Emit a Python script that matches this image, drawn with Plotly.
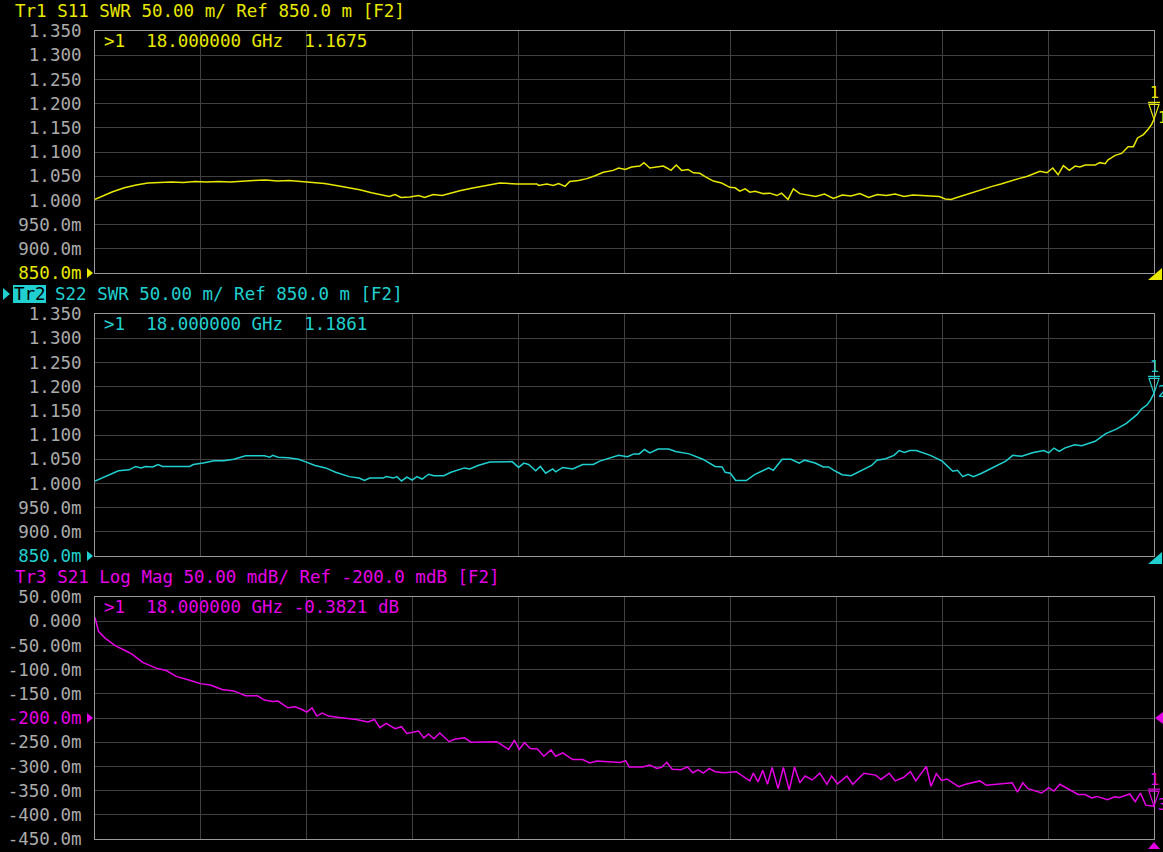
import plotly.graph_objects as go

# ---------------- data (frequency in GHz) ----------------
s11_freq = [0.00, 0.15, 0.30, 0.50, 0.70, 0.90, 1.10, 1.30, 1.50, 1.70, 1.90, 2.10, 2.30, 2.50, 2.70, 2.90,
            3.10, 3.30, 3.50, 3.70, 3.90, 4.10, 4.30, 4.50, 4.70, 4.85, 5.00, 5.10, 5.20, 5.35, 5.50, 5.60,
            5.75, 5.90, 6.05, 6.20, 6.40, 6.60, 6.75, 6.88, 7.17, 7.51, 7.54, 7.68, 7.79, 7.88, 7.99, 8.07,
            8.22, 8.36, 8.50, 8.64, 8.81, 8.90, 9.01, 9.12, 9.26, 9.33, 9.43, 9.55, 9.66, 9.72, 9.79, 9.88,
            9.97, 10.08, 10.17, 10.28, 10.37, 10.51, 10.65, 10.79, 10.88, 10.96, 11.05, 11.13, 11.22, 11.36,
            11.47, 11.59, 11.67, 11.78, 11.87, 11.98, 12.10, 12.25, 12.40, 12.55, 12.70, 12.85, 13.00, 13.15,
            13.30, 13.45, 13.60, 13.75, 13.90, 14.05, 14.20, 14.35, 14.45, 14.55, 14.65, 14.80, 14.95, 15.10,
            15.25, 15.40, 15.55, 15.70, 15.85, 15.95, 16.06, 16.18, 16.28, 16.37, 16.46, 16.56, 16.66, 16.74,
            16.83, 17.00, 17.08, 17.17, 17.22, 17.34, 17.45, 17.56, 17.65, 17.72, 17.82, 17.90, 17.96, 18.00]
s11_swr = [1.002, 1.010, 1.018, 1.026, 1.032, 1.036, 1.037, 1.038, 1.037, 1.039, 1.038, 1.039, 1.038, 1.040, 1.041, 1.042,
           1.040, 1.041, 1.039, 1.037, 1.035, 1.031, 1.027, 1.022, 1.016, 1.012, 1.008, 1.012, 1.006, 1.007, 1.010, 1.006,
           1.012, 1.010, 1.015, 1.020, 1.025, 1.030, 1.034, 1.036, 1.034, 1.034, 1.031, 1.034, 1.031, 1.035, 1.029, 1.039,
           1.041, 1.045, 1.051, 1.058, 1.062, 1.067, 1.064, 1.069, 1.071, 1.078, 1.067, 1.069, 1.071, 1.067, 1.062, 1.073,
           1.062, 1.064, 1.057, 1.056, 1.049, 1.040, 1.036, 1.027, 1.026, 1.019, 1.024, 1.017, 1.019, 1.014,
           1.015, 1.010, 1.015, 1.002, 1.024, 1.014, 1.012, 1.008, 1.013, 1.004, 1.011, 1.009, 1.014, 1.006,
           1.012, 1.010, 1.013, 1.008, 1.011, 1.010, 1.009, 1.008, 1.003, 1.002, 1.006, 1.012, 1.018, 1.024,
           1.029, 1.034, 1.040, 1.045, 1.050, 1.055, 1.060, 1.057, 1.067, 1.053, 1.072, 1.062, 1.071, 1.069,
           1.073, 1.073, 1.078, 1.076, 1.084, 1.093, 1.097, 1.111, 1.111, 1.129, 1.136, 1.147, 1.157, 1.1675]

s22_freq = [0.00, 0.17, 0.40, 0.58, 0.69, 0.78, 0.86, 0.98, 1.07, 1.15, 1.61, 1.67, 1.84, 2.02, 2.19, 2.36,
            2.56, 2.88, 2.97, 3.02, 3.11, 3.28, 3.46, 3.57, 3.74, 3.92, 4.09, 4.32, 4.49, 4.58, 4.67, 4.90,
            4.95, 5.07, 5.13, 5.21, 5.30, 5.39, 5.47, 5.56, 5.67, 5.76, 5.93, 6.05, 6.28, 6.37, 6.51, 6.71,
            6.97, 7.09, 7.20, 7.29, 7.37, 7.49, 7.57, 7.66, 7.78, 7.83, 7.95, 8.12, 8.29, 8.47, 8.58, 8.76,
            8.90, 9.05, 9.16, 9.25, 9.34, 9.43, 9.57, 9.75, 9.87, 10.10, 10.33, 10.54, 10.66, 10.71, 10.80,
            10.89, 11.07, 11.21, 11.33, 11.45, 11.53, 11.68, 11.83, 11.97, 12.06, 12.24, 12.38, 12.47, 12.56,
            12.70, 12.85, 13.03, 13.20, 13.29, 13.44, 13.58, 13.67, 13.76, 13.85, 13.96, 14.08, 14.20, 14.40,
            14.58, 14.66, 14.75, 14.84, 14.93, 15.07, 15.25, 15.48, 15.60, 15.75, 15.95, 16.13, 16.21, 16.30,
            16.39, 16.48, 16.65, 16.77, 17.00, 17.18, 17.36, 17.53, 17.71, 17.79, 17.88, 17.94, 18.00]
s22_swr = [1.005, 1.014, 1.026, 1.028, 1.035, 1.032, 1.035, 1.034, 1.039, 1.035, 1.035, 1.039, 1.042, 1.047, 1.047, 1.050,
           1.057, 1.057, 1.054, 1.058, 1.054, 1.053, 1.050, 1.045, 1.037, 1.032, 1.023, 1.014, 1.011, 1.006, 1.011, 1.011,
           1.014, 1.011, 1.014, 1.005, 1.013, 1.007, 1.014, 1.009, 1.019, 1.016, 1.016, 1.023, 1.032, 1.030, 1.037, 1.044,
           1.044, 1.045, 1.033, 1.042, 1.039, 1.026, 1.035, 1.021, 1.030, 1.024, 1.033, 1.030, 1.039, 1.039, 1.046, 1.052,
           1.058, 1.055, 1.061, 1.061, 1.070, 1.063, 1.071, 1.071, 1.066, 1.061, 1.050, 1.035, 1.034, 1.023, 1.021,
           1.006, 1.006, 1.018, 1.025, 1.032, 1.027, 1.050, 1.050, 1.042, 1.048, 1.042, 1.034, 1.034, 1.027,
           1.018, 1.016, 1.026, 1.037, 1.048, 1.051, 1.058, 1.068, 1.064, 1.068, 1.068, 1.063, 1.058, 1.046,
           1.025, 1.027, 1.014, 1.019, 1.014, 1.021, 1.032, 1.046, 1.058, 1.056, 1.064, 1.068, 1.063, 1.073,
           1.066, 1.073, 1.080, 1.078, 1.087, 1.103, 1.112, 1.124, 1.142, 1.154, 1.162, 1.172, 1.1861]

s21_freq = [0.00, 0.06, 0.17, 0.35, 0.52, 0.63, 0.81, 1.04, 1.21, 1.38, 1.61, 1.79, 1.96, 2.16, 2.36, 2.56,
            2.76, 2.88, 3.02, 3.11, 3.28, 3.40, 3.51, 3.60, 3.69, 3.77, 3.86, 3.97, 4.15, 4.44, 4.64, 4.75,
            4.84, 4.95, 5.10, 5.21, 5.30, 5.41, 5.50, 5.59, 5.67, 5.76, 5.86, 6.02, 6.11, 6.28, 6.39, 6.83,
            7.03, 7.13, 7.21, 7.30, 7.40, 7.52, 7.63, 7.75, 7.83, 7.95, 8.12, 8.29, 8.41, 8.53, 8.81, 8.93,
            9.02, 9.08, 9.31, 9.43, 9.55, 9.63, 9.72, 9.81, 9.96, 10.07, 10.16, 10.25, 10.34, 10.44, 10.54,
            10.69, 10.90, 11.01, 11.13, 11.19, 11.27, 11.35, 11.43, 11.51, 11.61, 11.70, 11.80, 11.89, 11.98,
            12.07, 12.19, 12.32, 12.44, 12.52, 12.62, 12.78, 12.88, 13.07, 13.27, 13.36, 13.50, 13.60, 13.74,
            13.86, 13.95, 14.13, 14.21, 14.30, 14.39, 14.48, 14.68, 14.80, 15.04, 15.15, 15.30, 15.48, 15.59,
            15.68, 15.77, 15.86, 16.09, 16.21, 16.30, 16.40, 16.53, 16.71, 16.83, 16.94, 17.03, 17.21, 17.33,
            17.41, 17.59, 17.68, 17.77, 17.86, 18.00]
s21_db = [0.008, -0.021, -0.035, -0.051, -0.061, -0.068, -0.085, -0.097, -0.102, -0.114, -0.122, -0.129, -0.132, -0.141, -0.144, -0.154,
          -0.154, -0.163, -0.166, -0.165, -0.179, -0.177, -0.182, -0.188, -0.179, -0.196, -0.190, -0.196, -0.199, -0.203, -0.208, -0.203,
          -0.220, -0.211, -0.222, -0.218, -0.232, -0.229, -0.227, -0.241, -0.233, -0.243, -0.231, -0.249, -0.244, -0.241, -0.250, -0.249,
          -0.265, -0.246, -0.265, -0.251, -0.263, -0.264, -0.279, -0.266, -0.279, -0.272, -0.286, -0.286, -0.293, -0.289, -0.292, -0.292,
          -0.288, -0.301, -0.301, -0.297, -0.304, -0.302, -0.2915, -0.306, -0.307, -0.301, -0.313, -0.307, -0.314, -0.304, -0.311,
          -0.313, -0.311, -0.321, -0.330, -0.314, -0.332, -0.308, -0.337, -0.302, -0.346, -0.302, -0.349, -0.301, -0.334,
          -0.320, -0.328, -0.314, -0.337, -0.320, -0.336, -0.320, -0.337, -0.314, -0.318, -0.327, -0.314, -0.330, -0.323,
          -0.311, -0.330, -0.300, -0.341, -0.315, -0.329, -0.326, -0.342, -0.337, -0.330, -0.339, -0.337, -0.334, -0.334,
          -0.353, -0.334, -0.346, -0.355, -0.344, -0.351, -0.337, -0.346, -0.358, -0.358, -0.365, -0.362, -0.369, -0.363,
          -0.364, -0.357, -0.373, -0.355, -0.380, -0.3821]

swr_ticks = [1.35, 1.30, 1.25, 1.20, 1.15, 1.10, 1.05, 1.00, 0.95, 0.90, 0.85]
swr_labels = ["1.350", "1.300", "1.250", "1.200", "1.150", "1.100", "1.050", "1.000", "950.0m", "900.0m", "850.0m"]
db_ticks = [0.05, 0.0, -0.05, -0.10, -0.15, -0.20, -0.25, -0.30, -0.35, -0.40, -0.45]
db_labels = ["50.00m", "0.000", "-50.00m", "-100.0m", "-150.0m", "-200.0m", "-250.0m", "-300.0m", "-350.0m", "-400.0m", "-450.0m"]

headers = ["Tr1 S11 SWR 50.00 m/ Ref 850.0 m [F2]",
           "S22 SWR 50.00 m/ Ref 850.0 m [F2]",
           "Tr3 S21 Log Mag 50.00 mdB/ Ref -200.0 mdB [F2]"]
readouts = [">1\u00a0\u00a018.000000 GHz\u00a0\u00a01.1675",
            ">1\u00a0\u00a018.000000 GHz\u00a0\u00a01.1861",
            ">1\u00a0\u00a018.000000 GHz -0.3821 dB"]

# ---------------- style ----------------
W, H = 1163, 852
YEL, CYA, MAG = "#e8e800", "#20d0d0", "#e600e6"
LBL = "#ababab"
GRID = "#404040"
FRAME = "#9a9a9a"
MONO = "DejaVu Sans Mono, Liberation Mono, monospace"
FS = 17.5

def px(x):
    return x / W

def py(y):
    return 1 - y / H

panels = [(31, 273), (314, 556), (597, 839)]  # (top px, bottom px)
colors = [YEL, CYA, MAG]

fig = go.Figure()
series = [(s11_freq, s11_swr), (s22_freq, s22_swr), (s21_freq, s21_db)]
for i, (fx, fy) in enumerate(series):
    fig.add_trace(go.Scatter(x=fx, y=fy, mode="lines", line=dict(color=colors[i], width=1.5),
                             xaxis="x" if i == 0 else f"x{i+1}", yaxis="y" if i == 0 else f"y{i+1}",
                             showlegend=False, hoverinfo="skip"))

layout = dict(width=W, height=H, paper_bgcolor="black", plot_bgcolor="black",
              margin=dict(l=0, r=0, t=0, b=0), showlegend=False)

ref_label_idx = [10, 10, 5]
for i, (top, bot) in enumerate(panels):
    xa = "xaxis" if i == 0 else f"xaxis{i+1}"
    ya = "yaxis" if i == 0 else f"yaxis{i+1}"
    yref = "y" if i == 0 else f"y{i+1}"
    layout[xa] = dict(domain=[px(95), px(1154)], range=[0, 18], dtick=1.8, tick0=0,
                      showgrid=True, gridcolor=GRID, gridwidth=1, zeroline=False,
                      showticklabels=False, showline=True, mirror=True, linecolor=FRAME, linewidth=1,
                      anchor=yref, fixedrange=True)
    tv = swr_ticks if i < 2 else db_ticks
    tl = list(swr_labels if i < 2 else db_labels)
    k = ref_label_idx[i]
    tl[k] = f"<span style='color:{colors[i]}'>{tl[k]}</span>"
    rng = [0.85, 1.35] if i < 2 else [-0.45, 0.05]
    layout[ya] = dict(domain=[py(bot), py(top)], range=rng, tickmode="array", tickvals=tv, ticktext=tl,
                      showgrid=True, gridcolor=GRID, gridwidth=1, zeroline=False,
                      showline=True, mirror=True, linecolor=FRAME, linewidth=1,
                      tickfont=dict(family=MONO, size=FS, color=LBL), ticklabelstandoff=9,
                      anchor="x" if i == 0 else f"x{i+1}", fixedrange=True, automargin=False)
fig.update_layout(**layout)

ann = []
shapes = []
# headers and marker readouts
for i, (top, bot) in enumerate(panels):
    hy = top - 20
    ann.append(dict(xref="paper", yref="paper", x=px(13 if i != 1 else 53), y=py(hy), xanchor="left",
                    yanchor="middle", text=headers[i], showarrow=False,
                    font=dict(family=MONO, size=FS, color=colors[i])))
    ann.append(dict(xref="paper", yref="paper", x=px(102), y=py(top + 10), xanchor="left",
                    yanchor="middle", text=readouts[i], showarrow=False,
                    font=dict(family=MONO, size=FS, color=colors[i])))
# Tr2 highlighted label
shapes.append(dict(type="rect", xref="paper", yref="paper", x0=px(13), x1=px(46), y0=py(303), y1=py(285),
                   fillcolor=CYA, line=dict(width=0)))
ann.append(dict(xref="paper", yref="paper", x=px(29.5), y=py(294), xanchor="center", yanchor="middle",
                text="Tr2", showarrow=False, font=dict(family=MONO, size=FS, color="black")))
shapes.append(dict(type="path", xref="paper", yref="paper",
                   path=f"M{px(3)},{py(288)} L{px(10)},{py(294)} L{px(3)},{py(300)} Z",
                   fillcolor=CYA, line=dict(width=0)))

# reference-level triangles (left of axis)
for i, yv in enumerate([273, 556, 718]):
    shapes.append(dict(type="path", xref="paper", yref="paper",
                       path=f"M{px(87)},{py(yv-5)} L{px(93)},{py(yv)} L{px(87)},{py(yv+5)} Z",
                       fillcolor=colors[i], line=dict(width=0)))
# corner triangles
for i, yv in enumerate([280, 564]):
    shapes.append(dict(type="path", xref="paper", yref="paper",
                       path=f"M{px(1148)},{py(yv)} L{px(1162)},{py(yv)} L{px(1162)},{py(yv-12)} Z",
                       fillcolor=colors[i], line=dict(width=0)))
shapes.append(dict(type="path", xref="paper", yref="paper",
                   path=f"M{px(1148)},{py(849)} L{px(1160)},{py(849)} L{px(1154)},{py(842)} Z",
                   fillcolor=MAG, line=dict(width=0)))
shapes.append(dict(type="path", xref="paper", yref="paper",
                   path=f"M{px(1163)},{py(712)} L{px(1155)},{py(718)} L{px(1163)},{py(724)} Z",
                   fillcolor=MAG, line=dict(width=0)))

# end-of-sweep marker 1 on each trace (sweep end = right edge of the x domain)
for i, (fx, fy) in enumerate(series):
    xr = "x" if i == 0 else f"x{i+1}"
    yr = "y" if i == 0 else f"y{i+1}"
    shapes.append(dict(type="path", xref=f"{xr} domain", yref=yr, xsizemode="pixel", ysizemode="pixel",
                       xanchor=1, yanchor=fy[-1],
                       path="M-6,17 L6,17 M-5,15 L5,15 L0,0 Z",
                       line=dict(color=colors[i], width=1.2), layer="above"))
    ann.append(dict(xref=xr, yref=yr, x=fx[-1], y=fy[-1], yshift=15, xanchor="center", yanchor="bottom",
                    text="1", showarrow=False, font=dict(family=MONO, size=15, color=colors[i])))
    ann.append(dict(xref=xr, yref=yr, x=fx[-1], y=fy[-1], xshift=2, yshift=1, xanchor="left", yanchor="middle",
                    text=str(i + 1), showarrow=False, font=dict(family=MONO, size=15, color=colors[i])))

fig.update_layout(annotations=ann, shapes=shapes)
fig.write_html("out.html", config={"displayModeBar": False},
               post_script="document.body.style.margin='0';document.body.style.padding='0';"
                           "document.body.style.overflow='hidden';")
